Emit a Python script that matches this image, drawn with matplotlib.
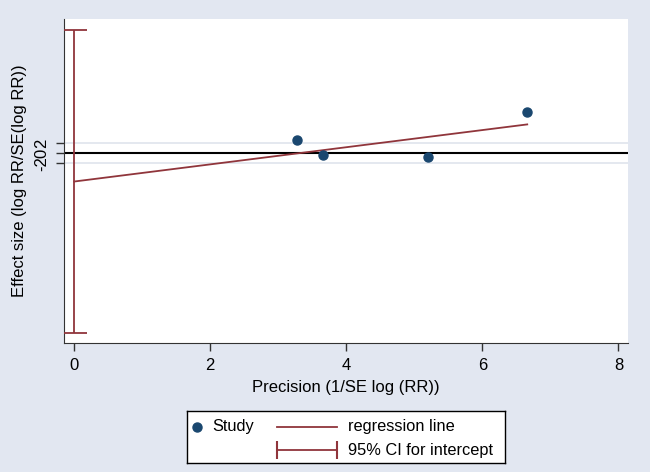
import numpy as np
import matplotlib
matplotlib.use("Agg")
from matplotlib import pyplot as plt

# study points (precision, standardized effect)
precision = [3.28, 3.66, 5.20, 6.66]
effect = [2.5, -0.33, -0.8, 8.0]
# 95% CI for the intercept
ci_low, ci_high = -35.2, 24.2

x_ticks = [0, 2, 4, 6, 8]
y_ticks = [-2, 0, 2]

navy = "#1a476f"
maroon = "#90353b"
bg = "#e2e7f1"

plt.rcParams['font.family'] = ['Liberation Sans', 'DejaVu Sans']

fig = plt.figure(figsize=(6.5, 4.72), dpi=100, facecolor=bg)
ax = fig.add_axes([0.0985, 0.273, 0.8675, 0.687])
ax.set_facecolor("white")

# reference lines
for yv in y_ticks:
    if yv != 0:
        ax.axhline(yv, color="#dfe4ec", lw=1.2, zorder=1)
ax.axhline(0, color="black", lw=1.5, zorder=2)

# regression line from intercept to the largest precision
slope, intercept = np.polyfit(precision, effect, 1)
xs = np.array([0, max(precision)])
ax.plot(xs, intercept + slope * xs, color=maroon, lw=1.3, zorder=3)

# CI for intercept
ax.errorbar([0], [(ci_low + ci_high) / 2], yerr=[[(ci_high - ci_low) / 2]],
            fmt="none", ecolor=maroon, elinewidth=1.3, capsize=9, capthick=1.3, zorder=3)

ax.plot(precision, effect, "o", color=navy, ms=6.5, zorder=4)

ax.set_xlim(-0.15, 8.14)
ax.set_ylim(-37.2, 26.3)
ax.set_xticks(x_ticks)
ax.set_yticks(y_ticks)
ax.set_yticklabels([str(v) for v in y_ticks], rotation=90, va="center")
ax.tick_params(labelsize=12, length=6, width=1, color="#333333", pad=4.5)
ax.set_xlabel("Precision (1/SE log (RR))", fontsize=12, labelpad=5)
ax.set_ylabel("Effect size (log RR/SE(log RR))", fontsize=12, labelpad=5)

ax.spines['top'].set_visible(False)
ax.spines['right'].set_visible(False)
ax.spines['left'].set_color("#333333")
ax.spines['bottom'].set_color("#333333")

# legend box drawn in its own small axes (pixel units inside the box)
lg = fig.add_axes([187 / 650, (472 - 463) / 472, 318 / 650, 52 / 472])
lg.set_xlim(0, 318)
lg.set_ylim(52, 0)
lg.set_xticks([])
lg.set_yticks([])
lg.set_facecolor("white")
for s in lg.spines.values():
    s.set_color("black")
    s.set_linewidth(1.0)
lg.plot([10], [15.5], "o", color=navy, ms=6.5)
lg.text(25, 15.5, "Study", fontsize=11.8, va="center")
lg.plot([90, 150], [15.5, 15.5], color=maroon, lw=1.3)
lg.text(161, 15.5, "regression line", fontsize=11.8, va="center")
lg.plot([90, 150], [39, 39], color=maroon, lw=1.3)
lg.plot([90, 150], [39, 39], ls="none", marker="|", ms=13, mew=1.5, color=maroon)
lg.text(161, 39, "95% CI for intercept", fontsize=11.8, va="center")

fig.savefig("out.png", dpi=100, facecolor=bg)
